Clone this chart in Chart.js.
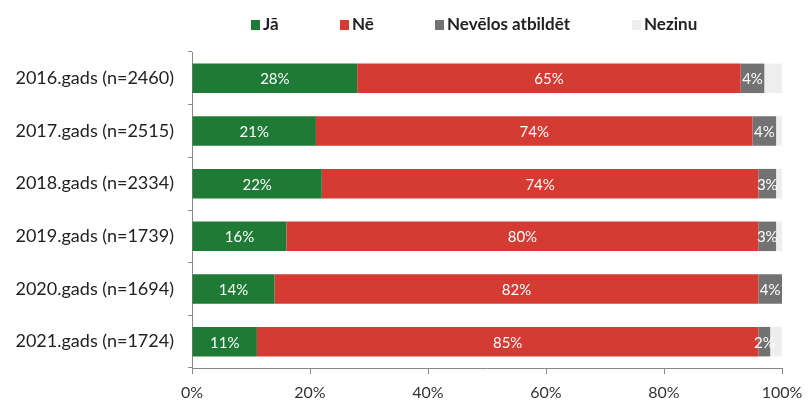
<!DOCTYPE html>
<html>
<head>
<meta charset="utf-8">
<script src="https://cdn.jsdelivr.net/npm/chart.js@4.4.0/dist/chart.umd.min.js"></script>
<style>
  body { margin: 0; background: #fff; }
  #wrap { position: relative; width: 808px; height: 406px; }
  #legend { position: absolute; left: 0; top: 14px; width: 808px; height: 20px;
            font: bold 17px Lato, sans-serif; color: #222; line-height: 19px; }
  #legend div { position: absolute; top: 0; white-space: nowrap; }
  #legend span.box { display: inline-block; width: 9px; height: 10px; margin-right: 3px; vertical-align: 0px; }
</style>
</head>
<body>
<div id="wrap">
  <canvas id="chart" width="808" height="406"></canvas>
  <div id="legend"></div>
</div>
<script>
const years = ['2016.gads (n=2460)', '2017.gads (n=2515)', '2018.gads (n=2334)',
               '2019.gads (n=1739)', '2020.gads (n=1694)', '2021.gads (n=1724)'];
const ja = [28, 21, 22, 16, 14, 11];
const ne = [65, 74, 74, 80, 82, 85];
const nevelos = [4, 4, 3, 3, 4, 2];
const nezinu = [3, 1, 1, 1, 0, 2];
const xTicks = [0, 20, 40, 60, 80, 100];

const seriesNames = ['Jā', 'Nē', 'Nevēlos atbildēt', 'Nezinu'];
const colors = ['#1e7a34', '#d43b33', '#727272', '#eeeeee'];
const legendLeft = [251, 340, 435, 632];

// white percent labels inside the first three segments
const barLabels = {
    id: 'barLabels',
    afterDatasetsDraw(chart) {
        const ctx = chart.ctx;
        ctx.save();
        ctx.font = '15px Lato';
        ctx.fillStyle = '#fff';
        ctx.textAlign = 'center';
        ctx.textBaseline = 'middle';
        chart.data.datasets.forEach((ds, i) => {
            if (i > 2) return;
            chart.getDatasetMeta(i).data.forEach((bar, j) => {
                ctx.fillText(ds.data[j] + '%', (bar.x + bar.base) / 2, bar.y + 1);
            });
        });
        ctx.restore();
    }
};

const ctx = document.querySelector('#chart').getContext('2d');
const chart = new Chart(ctx, {
    type: 'bar',
    data: {
        labels: years,
        datasets: [ja, ne, nevelos, nezinu].map((d, i) => ({
            label: seriesNames[i],
            data: d,
            backgroundColor: colors[i],
            barPercentage: 0.56,
            categoryPercentage: 1
        }))
    },
    options: {
        indexAxis: 'y',
        responsive: false,
        animation: false,
        layout: { padding: { top: 52, right: 26, bottom: 0, left: 0 } },
        plugins: {
            legend: { display: false },
            tooltip: { enabled: false }
        },
        scales: {
            x: {
                stacked: true,
                min: 0,
                max: 100,
                afterBuildTicks: scale => { scale.ticks = xTicks.map(v => ({ value: v })); },
                afterFit: scale => {
                    scale.height = 38;
                    scale.paddingLeft = 0;
                    scale.paddingRight = 0;
                },
                ticks: {
                    callback: v => v + '%',
                    color: '#333',
                    font: { family: 'Lato', size: 16 },
                    padding: 9
                },
                grid: { drawOnChartArea: false, tickLength: 6, color: '#888' },
                border: { color: '#888' }
            },
            y: {
                stacked: true,
                afterFit: scale => { scale.width = 192; },
                ticks: {
                    color: '#222',
                    font: { family: 'Lato', size: 18 },
                    padding: 14
                },
                grid: { drawOnChartArea: false, tickLength: 4, color: '#888' },
                border: { color: '#888' }
            }
        }
    },
    plugins: [barLabels]
});

// legend as plain text above the plot
const legend = document.querySelector('#legend');
chart.data.datasets.forEach((ds, i) => {
    const item = document.createElement('div');
    item.style.left = legendLeft[i] + 'px';
    item.innerHTML = '<span class="box" style="background:' + ds.backgroundColor + '"></span>' + ds.label;
    legend.appendChild(item);
});
</script>
</body>
</html>
